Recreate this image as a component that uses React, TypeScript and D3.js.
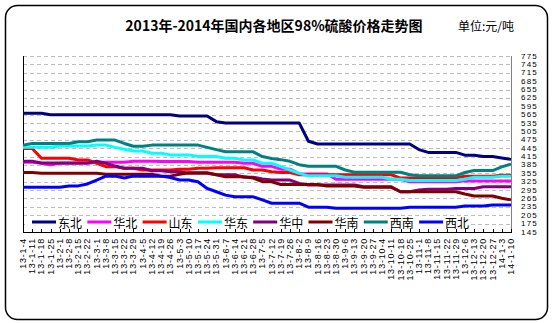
import React from "react";
import * as d3 from "d3";

const dates = [
  "13-1-4","13-1-11","13-1-18","13-1-25","13-2-1","13-2-8","13-2-15","13-2-22",
  "13-3-1","13-3-8","13-3-15","13-3-22","13-3-29","13-4-5","13-4-12","13-4-19","13-4-26",
  "13-5-3","13-5-10","13-5-17","13-5-24","13-5-31","13-6-7","13-6-14","13-6-21","13-6-28",
  "13-7-5","13-7-12","13-7-19","13-7-26","13-8-2","13-8-9","13-8-16","13-8-23","13-8-30",
  "13-9-6","13-9-13","13-9-20","13-9-27","13-10-4","13-10-11","13-10-18","13-10-25",
  "13-11-1","13-11-8","13-11-15","13-11-22","13-11-29","13-12-6","13-12-13","13-12-20","13-12-27",
  "14-1-3","14-1-10"
];

const yTicks = [775,745,715,685,655,625,595,565,535,505,475,445,415,385,355,325,295,265,235,205,175,145];

const dongbei = [
  570,570,570,
  565,565,565,565,565,565,565,565,565,565,565,565,565,565,
  560,560,560,560,
  540,
  535,535,535,535,535,535,535,535,535,
  470,
  460,460,460,460,460,460,460,460,460,460,460,
  440,
  430,430,430,430,
  420,420,415,415,410,405
];
const huabei = [
  395,395,391,386,
  391,391,391,391,
  395,395,395,395,
  398,398,398,
  397,397,397,397,
  395,395,395,395,395,
  391,391,
  380,380,
  370,370,
  353,353,353,353,
  334,334,334,334,334,
  334,334,334,
  325,325,325,325,325,325,
  328,328,328,328,328,328
];
const shandong = [
  444,444,
  409,409,409,409,
  403,403,
  391,
  379,379,
  373,373,
  367,367,367,367,
  370,370,
  373,373,
  375,375,375,375,
  367,367,
  361,
  358,358,
  350,350,350,350,350,350,350,350,350,350,350,
  338,338,338,338,338,338,338,
  345,345,345,345,
  348,348
];
const huadong = [
  448,448,448,448,
  453,453,453,453,
  456,456,
  448,441,
  435,435,
  427,427,
  421,421,421,
  415,415,415,
  409,409,
  403,403,
  391,391,
  379,367,355,
  346,346,346,346,
  341,341,341,341,341,
  334,334,
  329,329,329,329,329,329,
  334,
  341,341,341,
  345,345
];
const huazhong = [
  398,398,
  392,392,392,392,392,392,
  398,391,381,
  373,373,373,
  364,364,
  361,361,
  355,355,355,
  350,350,350,
  341,341,
  335,
  331,331,331,
  319,
  313,313,313,313,313,313,
  307,307,307,307,
  289,289,
  295,
  298,298,298,
  301,301,301,
  307,307,307,307
];
const huanan = [
  358,358,
  355,355,355,355,355,355,355,
  352,352,352,352,352,352,
  345,345,
  352,
  357,357,357,
  350,
  343,343,343,
  338,
  325,325,
  315,315,315,315,315,
  310,310,310,310,
  305,305,305,305,
  289,289,289,289,289,289,289,
  281,
  274,274,274,
  266,260
];
const xinan = [
  456,
  462,462,462,462,462,
  468,468,
  474,474,474,
  462,
  452,452,
  456,456,456,456,456,456,
  448,440,
  432,432,432,432,
  415,408,404,398,386,
  380,380,380,380,
  367,
  359,359,359,359,359,359,
  350,
  346,346,346,346,346,
  358,
  365,365,365,
  378,388
];
const xibei = [
  305,305,305,305,305,
  310,310,
  317,331,
  345,345,
  338,
  345,345,345,345,
  340,
  331,331,
  325,301,289,277,
  271,271,271,
  260,
  248,248,248,248,
  234,234,234,
  230,230,230,230,230,230,230,230,
  234,234,234,234,234,234,
  238,238,238,
  242,242,242
];

const seriesNames = ["东北","华北","山东","华东","华中","华南","西南","西北"];
const seriesValues = [dongbei, huabei, shandong, huadong, huazhong, huanan, xinan, xibei];
const seriesColors = ["#000080","#FF00FF","#FF0000","#00FFFF","#800080","#800000","#008080","#0000FF"];

const W = 554, H = 323;
const L = 23, R = 511, T = 56, B = 232;

export default function App() {
  const x = d3.scalePoint<string>().domain(dates).range([L, R]);
  const y = d3.scaleLinear().domain([145, 775]).range([B, T]);
  const line = d3.line<number>().x((_, i) => x(dates[i]) as number).y((v) => y(v));
  const cjk = "'Noto Sans CJK SC', 'Noto Sans', sans-serif";
  const num = "'Liberation Sans', Arial, sans-serif";
  const legX0 = 32, legStep = 55.3, legY = 222;

  return (
    <svg width={W} height={H} style={{ position: "absolute", left: 0, top: 0, background: "#fff" }}>
      <rect x={0} y={0} width={W} height={H} fill="#fff" />
      <rect x={5.5} y={5.5} width={542} height={314} rx={12} ry={12} fill="#fff" stroke="#000" strokeWidth={1.5} />
      <text x={274} y={25} textAnchor="middle" dominantBaseline="central" fontFamily={cjk} fontSize={14} fontWeight="bold">
        2013年-2014年国内各地区98%硫酸价格走势图
      </text>
      <text x={458} y={25} dominantBaseline="central" fontFamily={cjk} fontSize={12}>单位:元/吨</text>

      {yTicks.map((t) => (
        <line key={"g" + t} x1={L} x2={R} y1={Math.round(y(t)) + 0.5} y2={Math.round(y(t)) + 0.5}
          stroke="#bdbdbd" strokeWidth={1} strokeDasharray="4,3" />
      ))}
      <line x1={R + 0.5} x2={R + 0.5} y1={T} y2={B} stroke="#808080" strokeWidth={1} />
      <line x1={L + 0.5} x2={L + 0.5} y1={T} y2={B} stroke="#000" strokeWidth={1} />
      <line x1={L} x2={R + 1} y1={B + 0.5} y2={B + 0.5} stroke="#000" strokeWidth={1} />
      {dates.map((d) => (
        <line key={"t" + d} x1={Math.round(x(d) as number) + 0.5} x2={Math.round(x(d) as number) + 0.5}
          y1={B} y2={B - 3} stroke="#000" strokeWidth={1} />
      ))}

      {seriesValues.map((vals, k) => (
        <path key={seriesNames[k]} d={line(vals) || ""} fill="none" stroke={seriesColors[k]}
          strokeWidth={3} strokeLinejoin="round" />
      ))}

      <rect x={25} y={216} width={446} height={13} fill="#fff" />
      {seriesNames.map((n, k) => (
        <g key={"leg" + n}>
          <line x1={legX0 + legStep * k} x2={legX0 + legStep * k + 24} y1={legY} y2={legY}
            stroke={seriesColors[k]} strokeWidth={3} />
          <text x={legX0 + legStep * k + 26} y={legY} dominantBaseline="central" fontFamily={cjk} fontSize={12}>{n}</text>
        </g>
      ))}

      {yTicks.map((t) => (
        <text key={"yl" + t} x={521} y={y(t)} dominantBaseline="central" fontFamily={num} fontSize={8} letterSpacing={1.2}>{t}</text>
      ))}
      {dates.map((d) => (
        <text key={"xl" + d} transform={`translate(${x(d)},${238}) rotate(-90)`} textAnchor="end"
          dominantBaseline="central" fontFamily={num} fontSize={9} letterSpacing={0.8}>{d}</text>
      ))}
    </svg>
  );
}
